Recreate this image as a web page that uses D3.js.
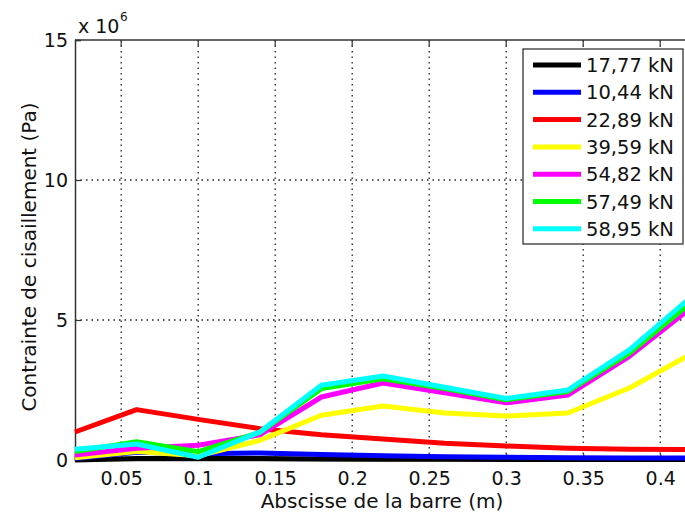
<!DOCTYPE html>
<html>
<head>
<meta charset="utf-8">
<script src="https://cdn.jsdelivr.net/npm/d3@7"></script>
<style>
  body { margin: 0; background: #fff; }
  svg { display: block; }
  text { font-family: "DejaVu Sans", sans-serif; fill: #111; }
</style>
</head>
<body>
<svg id="svg" width="685" height="517"></svg>
<script>
// abscissa positions (m)
var xs = [0.02, 0.06, 0.10, 0.14, 0.18, 0.22, 0.26, 0.30, 0.34, 0.38, 0.42];

// shear stress, x 10^6 Pa
var s1777 = [0.00, 0.05, 0.05, 0.05, 0.04, 0.03, 0.03, 0.02, 0.02, 0.02, 0.02];
var s1044 = [0.05, 0.28, 0.22, 0.25, 0.20, 0.15, 0.12, 0.10, 0.08, 0.07, 0.07];
var s2289 = [1.00, 1.80, 1.45, 1.12, 0.90, 0.75, 0.60, 0.50, 0.42, 0.38, 0.37];
var s3959 = [0.08, 0.30, 0.15, 0.70, 1.60, 1.93, 1.68, 1.57, 1.68, 2.57, 3.78];
var s5482 = [0.18, 0.42, 0.53, 0.90, 2.25, 2.75, 2.40, 2.04, 2.32, 3.70, 5.43];
var s5749 = [0.30, 0.65, 0.30, 0.98, 2.55, 2.90, 2.55, 2.15, 2.45, 3.82, 5.62];
var s5895 = [0.38, 0.57, 0.10, 1.00, 2.67, 3.00, 2.60, 2.20, 2.50, 3.93, 5.82];

var seriesNames = ["17,77 kN", "10,44 kN", "22,89 kN", "39,59 kN", "54,82 kN", "57,49 kN", "58,95 kN"];
var seriesValues = [s1777, s1044, s2289, s3959, s5482, s5749, s5895];
var seriesColors = ["#000000", "#0000ff", "#ff0000", "#ffff00", "#ff00ff", "#00ff00", "#00ffff"];

var xTicks = [0.05, 0.1, 0.15, 0.2, 0.25, 0.3, 0.35, 0.4];
var yTicks = [0, 5, 10, 15];

var svg = d3.select("#svg");
var mLeft = 75, mTop = 40, mBottom = 460, mRight = 691;

var x = d3.scaleLinear().domain([0.02, 0.42]).range([mLeft, mRight]);
var y = d3.scaleLinear().domain([0, 15]).range([mBottom, mTop]);

// grid
var grid = svg.append("g");
grid.selectAll("line.gx").data(xTicks).enter().append("line")
  .attr("x1", d => x(d)).attr("x2", d => x(d))
  .attr("y1", mTop).attr("y2", mBottom)
  .attr("stroke", "#222").attr("stroke-width", 1.3).attr("stroke-dasharray", "1.5,4");
grid.selectAll("line.gy").data(yTicks.filter(d => d > 0 && d < 15)).enter().append("line")
  .attr("x1", mLeft).attr("x2", 685)
  .attr("y1", d => y(d)).attr("y2", d => y(d))
  .attr("stroke", "#222").attr("stroke-width", 1.3).attr("stroke-dasharray", "1.5,4");

// axes (ticks pointing inward, matlab style)
var xAxis = d3.axisBottom(x).tickValues(xTicks).tickSize(-6).tickPadding(12)
  .tickFormat(d => String(+d.toFixed(2)));
var gx = svg.append("g").attr("transform", "translate(0," + mBottom + ")").call(xAxis);
var yAxis = d3.axisLeft(y).tickValues(yTicks).tickSize(-6).tickPadding(7);
var gy = svg.append("g").attr("transform", "translate(" + mLeft + ",0)").call(yAxis);
[gx, gy].forEach(function(g) {
  g.select(".domain").attr("stroke", "#333").attr("stroke-width", 1.5);
  g.selectAll(".tick line").attr("stroke", "#333").attr("stroke-width", 1.2);
  g.selectAll(".tick text").style("font-size", "19px").attr("fill", "#111");
});
// top border
svg.append("line").attr("x1", mLeft).attr("x2", 685).attr("y1", mTop).attr("y2", mTop)
  .attr("stroke", "#333").attr("stroke-width", 1.5);
svg.append("g").selectAll("line").data(xTicks).enter().append("line")
  .attr("x1", d => x(d)).attr("x2", d => x(d)).attr("y1", mTop).attr("y2", mTop + 6)
  .attr("stroke", "#333").attr("stroke-width", 1.2);

// series
var line = d3.line().x((d, i) => x(xs[i])).y(d => y(d));
var plot = svg.append("g");
seriesValues.forEach(function(vals, k) {
  plot.append("path")
    .attr("d", line(vals))
    .attr("fill", "none")
    .attr("stroke", seriesColors[k])
    .attr("stroke-width", 5)
    .attr("stroke-linejoin", "round");
});

// exponent
svg.append("text").attr("x", 78).attr("y", 33).style("font-size", "19px").text("x 10");
svg.append("text").attr("x", 120).attr("y", 21).style("font-size", "12px").text("6");

// axis labels
svg.append("text").attr("x", 382).attr("y", 508).attr("text-anchor", "middle")
  .style("font-size", "20px").text("Abscisse de la barre (m)");
svg.append("text").attr("transform", "translate(36,257) rotate(-90)").attr("text-anchor", "middle")
  .style("font-size", "20px").text("Contrainte de cisaillement (Pa)");

// legend
var lg = svg.append("g");
lg.append("rect").attr("x", 523).attr("y", 49).attr("width", 160).attr("height", 195)
  .attr("fill", "#fff").attr("stroke", "#333").attr("stroke-width", 1.3);
seriesNames.forEach(function(name, k) {
  var cy = 65 + k * 27.3;
  lg.append("line").attr("x1", 533).attr("x2", 581).attr("y1", cy).attr("y2", cy)
    .attr("stroke", seriesColors[k]).attr("stroke-width", 5);
  lg.append("text").attr("x", 586).attr("y", cy + 7).style("font-size", "19.5px").text(name);
});
</script>
</body>
</html>
